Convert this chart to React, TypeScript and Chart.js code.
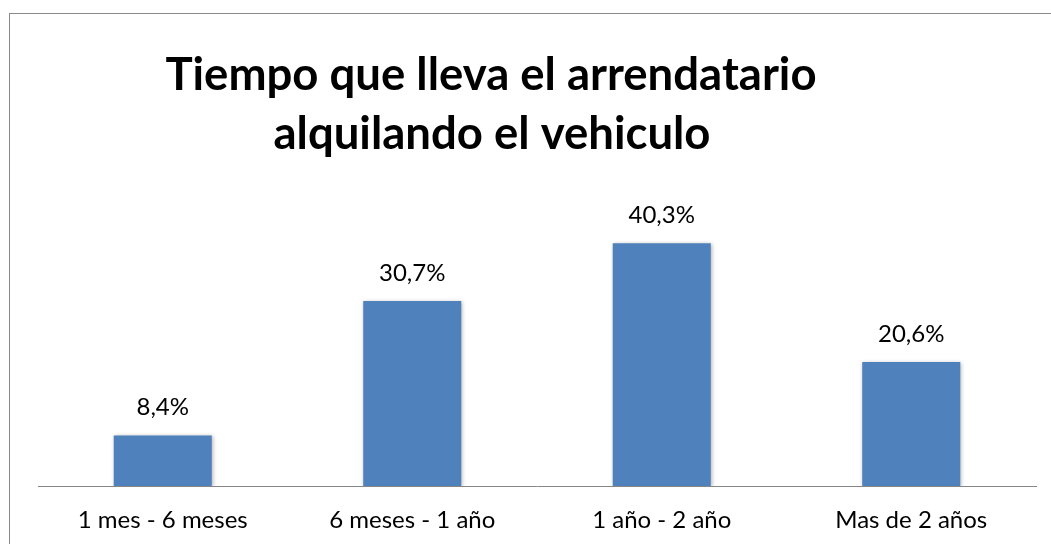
import React, { useEffect, useRef } from "react";
import { Chart, registerables } from "chart.js";

Chart.register(...registerables);

const categories = ["1 mes - 6 meses", "6 meses - 1 año", "1 año - 2 año", "Mas de 2 años"];
const values = [8.4, 30.7, 40.3, 20.6];
const titleLines = ["Tiempo que lleva el arrendatario", "alquilando el vehiculo"];

const W = 1051;
const H = 544;

const titlePlugin = {
  id: "customTitle",
  afterDraw(chart: any) {
    const ctx = chart.ctx;
    ctx.save();
    ctx.fillStyle = "#000000";
    ctx.font = "bold 45.5px Lato, 'Open Sans', sans-serif";
    ctx.textAlign = "center";
    ctx.textBaseline = "alphabetic";
    ctx.fillText(titleLines[0], 491, 90);
    ctx.fillText(titleLines[1], 492, 149);
    ctx.restore();
  },
};

const labelPlugin = {
  id: "valueLabels",
  afterDatasetsDraw(chart: any) {
    const ctx = chart.ctx;
    const meta = chart.getDatasetMeta(0);
    ctx.save();
    ctx.fillStyle = "#000000";
    ctx.font = "24px Lato, 'Open Sans', sans-serif";
    ctx.textAlign = "center";
    ctx.textBaseline = "middle";
    meta.data.forEach((bar: any, i: number) => {
      const v = chart.data.datasets[0].data[i] as number;
      const txt = v.toFixed(1).replace(".", ",") + "%";
      ctx.fillText(txt, bar.x, bar.y - 28);
    });
    ctx.restore();
  },
};

const shadowPlugin = {
  id: "barShadow",
  beforeDatasetsDraw(chart: any) {
    const ctx = chart.ctx;
    ctx.save();
    ctx.shadowColor = "rgba(0,0,0,0.3)";
    ctx.shadowBlur = 4;
    ctx.shadowOffsetX = 1;
    ctx.shadowOffsetY = 1;
  },
  afterDatasetsDraw(chart: any) {
    chart.ctx.restore();
  },
};

export default function App() {
  const canvasRef = useRef<HTMLCanvasElement | null>(null);

  useEffect(() => {
    if (!canvasRef.current) return;
    const chart = new Chart(canvasRef.current, {
      type: "bar",
      data: {
        labels: categories,
        datasets: [
          {
            data: values,
            backgroundColor: "#4F81BD",
            borderWidth: 0,
            categoryPercentage: 1,
            barPercentage: 0.393,
          },
        ],
      },
      options: {
        responsive: false,
        animation: false,
        layout: { padding: { left: 38, right: 15, top: 215, bottom: 0 } },
        plugins: {
          legend: { display: false },
          title: { display: false },
          tooltip: { enabled: false },
        },
        scales: {
          x: {
            grid: { display: true, drawOnChartArea: false, drawTicks: false },
            border: { display: true, color: "#868686", width: 1 },
            ticks: {
              color: "#000000",
              padding: 20,
              font: { family: "Lato, 'Open Sans', sans-serif", size: 24 },
              maxRotation: 0,
              autoSkip: false,
            },
            afterFit: (scale: any) => {
              scale.height = 58;
            },
          },
          y: {
            display: false,
            min: 0,
            max: 45,
          },
        },
      },
      plugins: [shadowPlugin, labelPlugin, titlePlugin],
    });
    return () => chart.destroy();
  }, []);

  return (
    <div style={{ position: "fixed", left: 0, top: 0, width: W, height: H, overflow: "hidden", background: "#ffffff" }}>
      <div
        style={{
          position: "absolute",
          left: 9,
          top: 13,
          width: W + 50,
          height: H + 50,
          borderLeft: "1px solid #898989",
          borderTop: "1px solid #898989",
        }}
      />
      <canvas ref={canvasRef} width={W} height={H} style={{ position: "absolute", left: 0, top: 0, display: "block" }} />
    </div>
  );
}
